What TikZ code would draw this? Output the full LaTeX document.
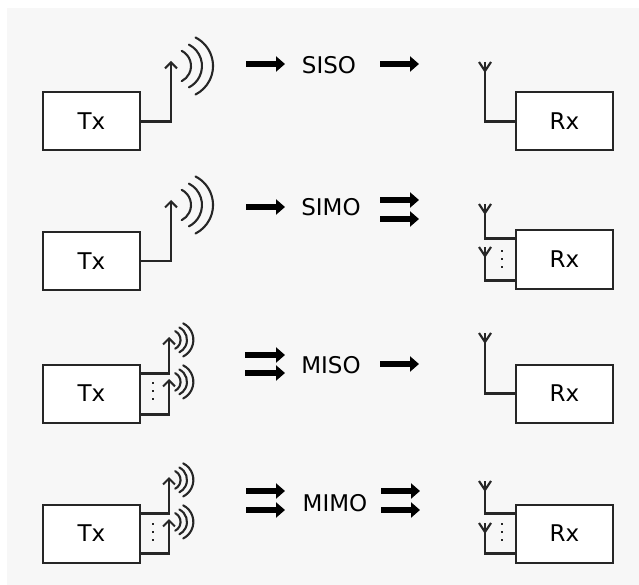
\documentclass[tikz,border=0pt]{standalone}
\usepackage{fontspec}
\setmainfont{DejaVu Sans}
\usetikzlibrary{arrows.meta, positioning}

\begin{document}
\begin{tikzpicture}[
  x=1pt, y=-1pt,
  radio/.style={rectangle, draw=black!85, fill=white, line width=2pt, inner sep=0pt,
                outer sep=0pt, minimum width=97pt, minimum height=58pt, align=center,
                font=\fontsize{23}{26}\selectfont},
  modelabel/.style={inner sep=0pt, font=\fontsize{23}{26}\selectfont},
  feed/.style={line width=2.1pt, black!85},
  txfeed/.style={feed, -{Straight Barb[length=6pt, width=12pt]}},
  fat/.style={-{Triangle[length=9pt, width=15pt]}, line width=6pt, black},
  morelines/.style={line width=2.5pt, black!85, dash pattern=on 2.2pt off 5.8pt},
  pics/waves/.style={code={
    \draw[feed, line cap=round] (3,5) ++(-63:17) arc[start angle=-63, end angle=63, radius=17];
    \draw[feed, line cap=round] (7,5) ++(-63:24) arc[start angle=-63, end angle=63, radius=24];
    \draw[feed, line cap=round] (10,5) ++(-63:32) arc[start angle=-63, end angle=63, radius=32];
  }},
  pics/mast/.style={code={
    \draw[feed] (-6,0) -- (0,9) -- (6,0);
    \draw[feed] (0,0) -- (0,9);
  }}
]

% background
\useasboundingbox (0,0) rectangle (639,585);
\fill[white] (0,0) rectangle (639,585);
\fill[black!3] (7,8) rectangle (639,585);

% transmitters
\node[radio] (tx1) at (91.5,121.5) {Tx};
\node[radio, below=81.5pt of tx1] (tx2) {Tx};
\node[radio, below=74.5pt of tx2] (tx3) {Tx};
\node[radio, below=82pt of tx3] (tx4) {Tx};

% receivers
\node[radio, right=376pt of tx1] (rx1) {Rx};
\node[radio, right=376pt of tx2, yshift=1.5pt] (rx2) {Rx};
\node[radio, right=376pt of tx3] (rx3) {Rx};
\node[radio, right=376pt of tx4] (rx4) {Rx};

% labels
\node[modelabel] (siso) at (329,65) {SISO};
\node[modelabel] (simo) at (331,207) {SIMO};
\node[modelabel] (miso) at (331,365) {MISO};
\node[modelabel] (mimo) at (335,503) {MIMO};

% transmit antennas
\coordinate (t1) at (171,61);
\coordinate (t2) at (171,200);
\coordinate (t3a) at (169,337);
\coordinate (t3b) at (169,379);
\coordinate (t4a) at (169,477);
\coordinate (t4b) at (169,519);

\draw[txfeed] (tx1.east) -| (t1);
\draw[txfeed] (tx2.east) -| (t2);
\draw[txfeed] ([yshift=20pt]tx3.east) -| (t3a);
\draw[txfeed] ([yshift=-21pt]tx3.east) -| (t3b);
\draw[txfeed] ([yshift=20pt]tx4.east) -| (t4a);
\draw[txfeed] ([yshift=-20pt]tx4.east) -| (t4b);

\pic at (t1) {waves};
\pic at (t2) {waves};
\pic[scale=.58] at (t3a) {waves};
\pic[scale=.58] at (t3b) {waves};
\pic[scale=.58] at (t4a) {waves};
\pic[scale=.58] at (t4b) {waves};

\coordinate (d3) at (153,382);
\coordinate (d4) at (153,523);
\draw[morelines] (d3) -- ++(0,19);
\draw[morelines] (d4) -- ++(0,19);

% receive antennas
\coordinate (r1) at (485,62);
\coordinate (r2a) at (485,204);
\coordinate (r2b) at (485,247);
\coordinate (r3) at (485,333);
\coordinate (r4a) at (485,481);
\coordinate (r4b) at (485,523);

\draw[feed] (rx1.west) -| (r1);
\draw[feed] ([yshift=21pt]rx2.west) -| (r2a);
\draw[feed] ([yshift=-21pt]rx2.west) -| (r2b);
\draw[feed] (rx3.west) -| (r3);
\draw[feed] ([yshift=20pt]rx4.west) -| (r4a);
\draw[feed] ([yshift=-20pt]rx4.west) -| (r4b);

\pic at (r1) {mast};
\pic at (r2a) {mast};
\pic at (r2b) {mast};
\pic at (r3) {mast};
\pic at (r4a) {mast};
\pic at (r4b) {mast};

\coordinate (d2) at (502,250);
\coordinate (d5) at (502,523);
\draw[morelines] (d2) -- ++(0,19);
\draw[morelines] (d5) -- ++(0,19);

% streams
\coordinate (a1) at (246,64);
\coordinate (b1) at (380,64);
\coordinate (a2) at (246,207);
\coordinate (b2a) at (380,200);
\coordinate (b2b) at (380,219);
\coordinate (a3a) at (245,355);
\coordinate (a3b) at (245,373);
\coordinate (b3) at (380,364);
\coordinate (a4a) at (246,491);
\coordinate (a4b) at (246,510);
\coordinate (b4a) at (381,491);
\coordinate (b4b) at (381,510);

\draw[fat] (a1) -- ++(39,0);
\draw[fat] (b1) -- ++(39,0);
\draw[fat] (a2) -- ++(39,0);
\draw[fat] (b2a) -- ++(39,0);
\draw[fat] (b2b) -- ++(39,0);
\draw[fat] (a3a) -- ++(40,0);
\draw[fat] (a3b) -- ++(40,0);
\draw[fat] (b3) -- ++(39,0);
\draw[fat] (a4a) -- ++(39,0);
\draw[fat] (a4b) -- ++(39,0);
\draw[fat] (b4a) -- ++(39,0);
\draw[fat] (b4b) -- ++(39,0);

\end{tikzpicture}
\end{document}
